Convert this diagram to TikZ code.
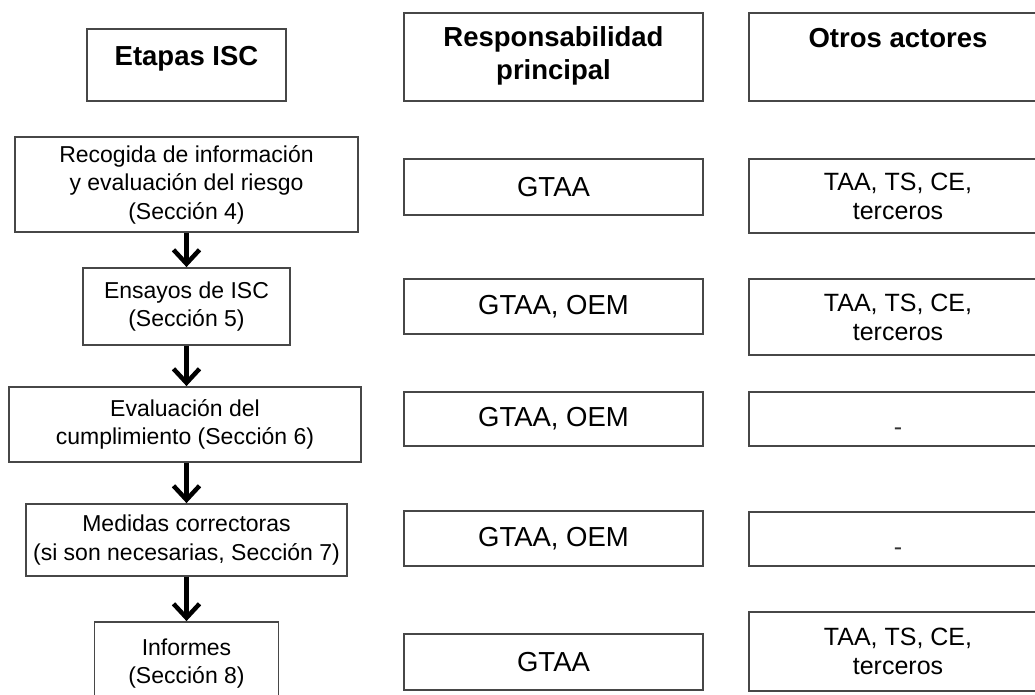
\documentclass[tikz,border=0pt]{standalone}
\usepackage{fontspec}
\setmainfont{Liberation Sans}
\usetikzlibrary{arrows.meta}

\tikzset{
  box/.style={draw=black!72, line width=1.8pt, fill=white, inner sep=0pt,
              align=center, minimum width=#1},
  lefttxt/.style={font=\fontsize{23}{28.5}\selectfont},
  midtxt/.style={font=\fontsize{27.5}{33}\selectfont},
  righttxt/.style={font=\fontsize{25}{29}\selectfont},
  headtxt/.style={font=\fontsize{27.5}{33}\selectfont\bfseries, align=center, inner sep=0pt},
  flow/.style={line width=4.5pt, -{Straight Barb[length=14pt,width=26pt]}}
}

\begin{document}
\begin{tikzpicture}[x=1pt, y=-1pt]
\useasboundingbox (0,0) rectangle (1035,695);
\clip (0,0) rectangle (1035,695);

% column headers
\node[box=199pt, minimum height=72pt] (hL) at (186.5,65) {};
\node[headtxt, anchor=base] (hLt) at (186.5,65.5) {Etapas ISC};
\node[box=299pt, minimum height=88pt] (hM) at (553.5,57) {};
\node[headtxt] (hMt) at (553.5,56) {Responsabilidad\\principal};
\node[box=298pt, minimum height=88pt] (hR) at (898,57) {};
\node[headtxt, anchor=base] (hRt) at (898,47.5) {Otros actores};

% stages of the process
\node[box=343pt, minimum height=95pt, lefttxt] (L1) at (186.5,184.5)
  {Recogida de información\\y evaluación del riesgo\\(Sección 4)};
\node[box=207pt, minimum height=77pt, lefttxt] (L2) at (186.5,306.5)
  {Ensayos de ISC\\(Sección 5)};
\node[box=352pt, minimum height=75pt, lefttxt] (L3) at (185,424.5)
  {Evaluación del\\cumplimiento (Sección 6)};
\node[box=321pt, minimum height=72pt, lefttxt] (L4) at (186.5,540)
  {Medidas correctoras\\(si son necesarias, Sección 7)};
\node[box=184pt, minimum height=83pt, lefttxt] (L5) at (186.5,663.5)
  {Informes\\(Sección 8)};

% main responsibility
\node[box=299pt, minimum height=56pt, midtxt] (M1) at (553.5,187) {GTAA};
\node[box=299pt, minimum height=55pt, midtxt] (M2) at (553.5,306.5) {GTAA, OEM};
\node[box=299pt, minimum height=54pt, midtxt] (M3) at (553.5,419) {GTAA, OEM};
\node[box=299pt, minimum height=55pt, midtxt] (M4) at (553.5,538.5) {GTAA, OEM};
\node[box=299pt, minimum height=56pt, midtxt] (M5) at (553.5,662) {GTAA};

% other actors
\node[box=298pt, minimum height=74pt, righttxt] (R1) at (898,196)
  {TAA, TS, CE,\\terceros};
\node[box=298pt, minimum height=76pt, righttxt] (R2) at (898,317)
  {TAA, TS, CE,\\terceros};
\node[box=298pt, minimum height=54pt] (R3) at (898,419) {};
\node[righttxt, anchor=base, inner sep=0pt, text=black!80] (R3t) at (898,435) {-};
\node[box=298pt, minimum height=54pt] (R4) at (898,539) {};
\node[righttxt, anchor=base, inner sep=0pt, text=black!80] (R4t) at (898,555) {-};
\node[box=298pt, minimum height=79pt, righttxt] (R5) at (898,651.5)
  {TAA, TS, CE,\\terceros};

% flow between stages
\draw[flow] (L1.south) -- (L1.south |- L2.north);
\draw[flow] (L2.south) -- (L2.south |- L3.north);
\draw[flow] (L3.south -| L2.south) -- (L2.south |- L4.north);
\draw[flow] (L4.south) -- (L4.south |- L5.north);
\end{tikzpicture}
\end{document}
